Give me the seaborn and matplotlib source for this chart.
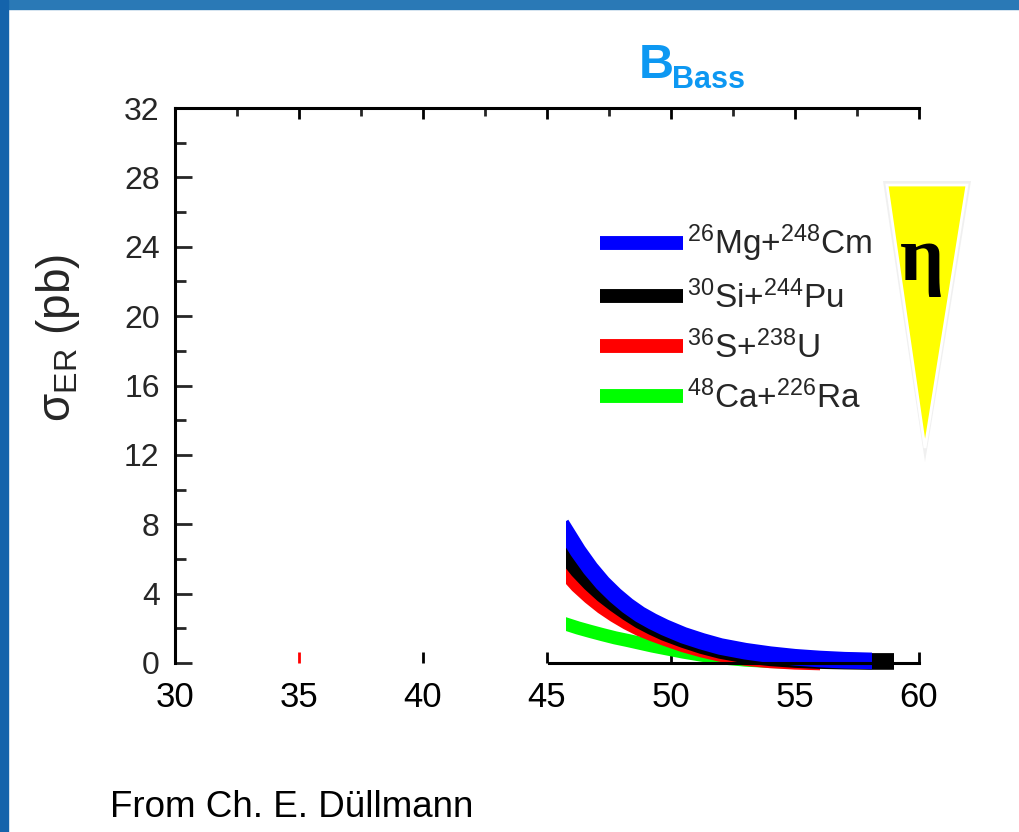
import numpy as np
import pandas as pd
import matplotlib
matplotlib.use("Agg")
import matplotlib.pyplot as plt
from matplotlib.patches import Rectangle, Polygon
from matplotlib.ticker import MultipleLocator
import seaborn as sns

# projectile energy (MeV) and cross sections (pb)
energy_mg = [45.75, 46.25, 46.75, 47.25, 47.75, 48.25, 48.75, 49.25, 49.75, 50.5,
             51.25, 52, 53, 54, 55, 56, 57, 58.1]
sigma_mg = [7.6, 6.45, 5.45, 4.6, 3.9, 3.3, 2.8, 2.4, 2.05, 1.6,
            1.25, 0.95, 0.68, 0.48, 0.33, 0.23, 0.16, 0.12]

energy_si = [45.75, 46.25, 46.75, 47.25, 47.75, 48.25, 48.75, 49.25, 49.75, 50.5,
             51.25, 52, 53, 54, 55, 56, 57, 58, 59]
sigma_si = [6.25, 5.35, 4.6, 3.95, 3.4, 2.9, 2.45, 2.08, 1.75, 1.35,
            1.0, 0.72, 0.46, 0.3, 0.2, 0.14, 0.11, 0.09, 0.09]

energy_s = [45.75, 46.25, 46.75, 47.25, 47.75, 48.25, 48.75, 49.25, 49.75, 50.5,
            51.25, 52, 53, 54, 55, 56]
sigma_s = [5.3, 4.5, 3.85, 3.28, 2.8, 2.38, 2.02, 1.73, 1.47, 1.1,
           0.8, 0.55, 0.32, 0.18, 0.1, 0.06]

energy_ca = [45.75, 46.25, 46.75, 47.25, 47.75, 48.25, 48.75, 49.25, 49.75, 50.5,
             51.25, 52, 53, 54, 55]
sigma_ca = [2.25, 2.02, 1.82, 1.63, 1.45, 1.3, 1.14, 0.98, 0.84, 0.63,
            0.45, 0.3, 0.17, 0.09, 0.05]

reactions = [r"$^{26}$Mg+$^{248}$Cm", r"$^{30}$Si+$^{244}$Pu",
             r"$^{36}$S+$^{238}$U", r"$^{48}$Ca+$^{226}$Ra"]
colors = ["#0000ff", "#000000", "#ff0000", "#00ff00"]
widths = [12, 12, 12, 9.5]

x_ticks = [30, 35, 40, 45, 50, 55, 60]
y_ticks = [0, 4, 8, 12, 16, 20, 24, 28, 32]

W, H = 1019, 832

sns.set_style("ticks")
plt.rcParams["font.family"] = ["Liberation Sans", "DejaVu Sans"]
plt.rcParams["mathtext.fontset"] = "custom"
plt.rcParams["mathtext.rm"] = "Liberation Sans"
plt.rcParams["mathtext.it"] = "Liberation Sans:italic"
plt.rcParams["mathtext.bf"] = "Liberation Sans:bold"


def fx(px):
    return px / W


def fy(py):
    return 1 - py / H


fig = plt.figure(figsize=(W / 100, H / 100), dpi=100)
fig.patch.set_facecolor("white")

# slide frame
fig.patches.append(Rectangle((0, fy(9)), 1, 9 / H, transform=fig.transFigure,
                             color="#2a79b6", zorder=0))
fig.patches.append(Rectangle((0, 0), fx(8), 1, transform=fig.transFigure,
                             color="#1463ab", zorder=0))

ax = fig.add_axes([fx(175), fy(663), fx(919 - 175), (663 - 108) / H])
ax.set_facecolor("none")

series = [
    (energy_ca, sigma_ca, 3),
    (energy_s, sigma_s, 2),
    (energy_si, sigma_si, 1),
    (energy_mg, sigma_mg, 0),
]
for xs, ys, i in series:
    df = pd.DataFrame({"E": xs, "sigma": ys})
    sns.lineplot(data=df, x="E", y="sigma", ax=ax, color=colors[i], linewidth=widths[i],
                 estimator=None, sort=False, label=reactions[i])
    line = ax.lines[-1]
    line.set_solid_joinstyle("round")
    # ends are cut square at the first and last energy
    line.set_solid_capstyle("projecting")
    clip = Rectangle((xs[0], -2), xs[-1] - xs[0], 40, transform=ax.transData)
    line.set_clip_path(clip)

ax.set_xlim(30, 60)
ax.set_ylim(0, 32)
ax.set_xticks(x_ticks)
ax.set_yticks(y_ticks)
ax.xaxis.set_minor_locator(MultipleLocator(2.5))
ax.yaxis.set_minor_locator(MultipleLocator(2))

for side in ["left", "top", "bottom"]:
    ax.spines[side].set_linewidth(2.2)
    ax.spines[side].set_color("black")
ax.spines["right"].set_visible(False)
ax.spines["bottom"].set_bounds(45.1, 60)

ax.tick_params(axis="x", which="major", direction="in", top=True, bottom=True,
               length=8, width=2, labelsize=25, pad=13, colors="black")
ax.tick_params(axis="x", which="minor", direction="in", top=True, bottom=False,
               length=6, width=2)
ax.tick_params(axis="y", which="major", direction="in", left=True, right=False,
               length=12, width=2, labelsize=23, pad=11)
ax.tick_params(axis="y", which="minor", direction="in", left=True, right=False,
               length=8, width=2)
ax.xaxis.get_major_ticks()[1].tick1line.set_markeredgecolor("#ff0000")

ax.set_xlabel("")
ax.set_ylabel("σ$_{\\mathrm{ER}}$ (pb)", fontsize=33)
ax.yaxis.set_label_coords(-0.125, 0.586)

handles, labels = ax.get_legend_handles_labels()
order = [labels.index(r) for r in reactions]
leg = ax.legend([handles[k] for k in order], [labels[k] for k in order],
                loc="upper left", bbox_to_anchor=(fx(600), fy(223)),
                bbox_transform=fig.transFigure, frameon=False, fontsize=24,
                handlelength=2.5, handletextpad=0.12, labelspacing=0.47,
                borderpad=0, borderaxespad=0)
for h in leg.get_lines():
    h.set_solid_capstyle("butt")
    h.set_linewidth(10)

# title
fig.text(fx(639), fy(78), "B", fontsize=35, fontweight="bold", color="#0d98f2",
         va="baseline", ha="left")
fig.text(fx(672), fy(88), "Bass", fontsize=22, fontweight="bold", color="#0d98f2",
         va="baseline", ha="left")

# eta wedge
tri = [(fx(887), fy(185)), (fx(967), fy(185)), (fx(925), fy(448))]
shadow = [(fx(883), fy(181)), (fx(971), fy(181)), (fx(925), fy(462))]
fig.patches.append(Polygon(shadow, closed=True, transform=fig.transFigure,
                           facecolor="#f0f0f0", edgecolor="none", zorder=1))
fig.patches.append(Polygon(tri, closed=True, transform=fig.transFigure,
                           facecolor="#ffff00", edgecolor="white", linewidth=2, zorder=2))
fig.text(fx(922), fy(280), "η", fontsize=56, fontweight="bold",
         family=["Liberation Serif", "DejaVu Serif"],
         color="black", ha="center", va="baseline", zorder=3)

fig.text(fx(110), fy(817), "From Ch. E. Düllmann", fontsize=26.5, color="black",
         ha="left", va="baseline")

fig.savefig("out.png", dpi=100)
